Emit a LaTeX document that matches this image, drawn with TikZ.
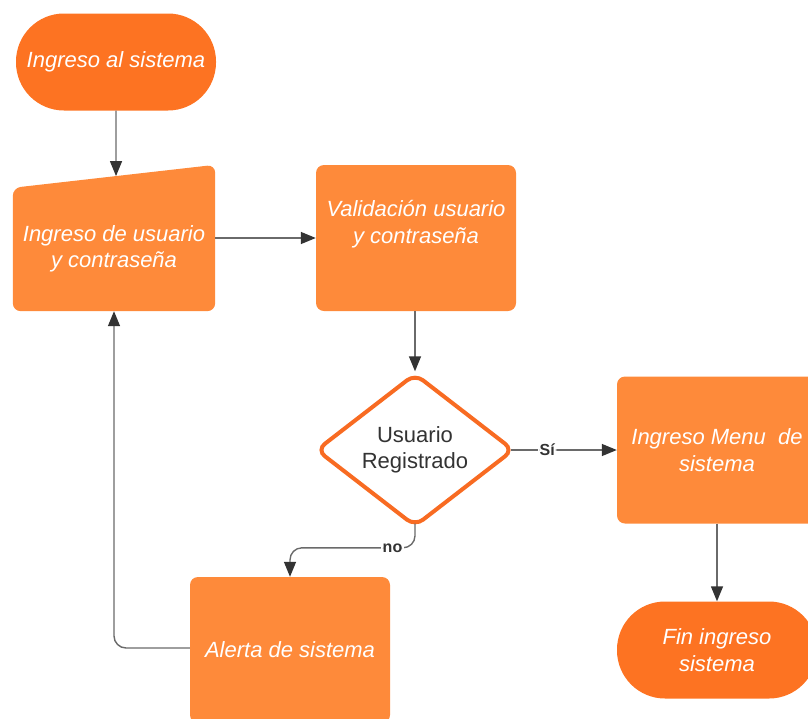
\documentclass[tikz,border=0pt]{standalone}
\usepackage{fontspec}
\setmainfont{Liberation Sans}
\usetikzlibrary{arrows.meta,shapes.geometric,calc}

\definecolor{termfill}{HTML}{FD7322}
\definecolor{boxfill}{HTML}{FE8A3A}
\definecolor{decstroke}{HTML}{F86B22}
\definecolor{linegray}{HTML}{6A6A6A}
\definecolor{tipgray}{HTML}{333333}
\definecolor{lbltext}{HTML}{333333}

\begin{document}
\begin{tikzpicture}[x=1pt,y=-1pt,
  txt/.style={font=\fontsize{22}{26.5}\selectfont\itshape, text=white, align=center},
  terminal/.style={txt, fill=termfill, rounded corners=48pt, minimum width=200pt, minimum height=97pt, inner sep=0pt},
  process/.style={txt, fill=boxfill, rounded corners=8pt, minimum width=200pt, minimum height=146pt, inner sep=0pt},
  inshape/.style={minimum width=202pt, minimum height=146pt, inner sep=0pt},
  decision/.style={diamond, draw=decstroke, line width=4pt, fill=white, rounded corners=10pt,
    minimum width=198pt, minimum height=146pt, inner sep=0pt, align=center, text=lbltext,
    font=\fontsize{22}{26.5}\selectfont},
  conn/.style={draw=linegray, line width=1.4pt, rounded corners=12pt,
    -{Triangle[length=15pt,width=12pt,color=tipgray]}},
  lbl/.style={fill=white, text=lbltext, font=\fontsize{16}{18}\selectfont\bfseries, inner sep=1.5pt}
]
\path[use as bounding box, clip] (0,0) rectangle (808,718);

% start terminal
\node[terminal] (start) at (116,62) {Ingreso al sistema};

% manual input block with slanted top edge
\node[inshape] (input) at (114,238) {};
\fill[boxfill, rounded corners=8pt] (input.south west) -- (input.south east) -- (input.north east)
  -- ([yshift=-23pt]input.north west) -- cycle;
\node[txt] (inputlbl) at (114,249) {Ingreso de usuario\\y contraseña};
\coordinate (intop) at ($([yshift=-23pt]input.north west)!0.51!(input.north east)$);

% processing steps
\node[process] (valid) at (416,238) {Validación usuario\\y contraseña\\[6pt]};
\node[decision] (dec) at (415,450) {Usuario\\Registrado};
\node[process, minimum height=147pt] (menu) at (717,450) {Ingreso Menu \ de\\sistema};
\node[terminal] (fin) at (717,650) {Fin ingreso\\sistema};
\node[process] (alerta) at (290,650) {Alerta de sistema};

% connectors
\draw[conn] (start) -- (intop);
\draw[conn] (input.east) -- (valid.west);
\draw[conn] (valid.south -| dec.north) -- (dec.north);
\draw[conn, shorten <=-5pt] (dec) -- node[lbl, pos=0.31] {Sí} (menu);
\draw[conn] (menu) -- (fin);
\draw[conn, shorten <=-5pt] (dec.south) |- node[lbl, pos=0.59] {no} ([yshift=29pt]alerta.north) -- (alerta.north);
\draw[conn] ([yshift=2pt]alerta.west) -| (input.south);
\end{tikzpicture}
\end{document}
